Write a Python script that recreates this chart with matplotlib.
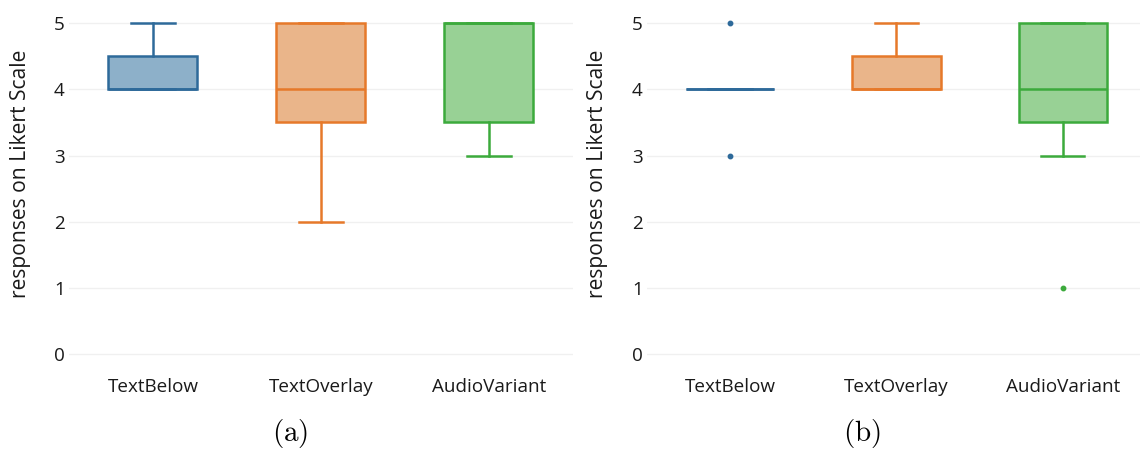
import matplotlib
matplotlib.use("Agg")
import matplotlib.pyplot as plt

# Likert responses summarised per variant (five-number summary + outliers)
variants = ["TextBelow", "TextOverlay", "AudioVariant"]

# panel (a)
a_whislo = [4, 2, 3]
a_q1 = [4, 3.5, 3.5]
a_med = [4, 4, 5]
a_q3 = [4.5, 5, 5]
a_whishi = [5, 5, 5]
a_fliers = [[], [], []]

# panel (b)
b_whislo = [4, 4, 3]
b_q1 = [4, 4, 3.5]
b_med = [4, 4, 4]
b_q3 = [4, 4.5, 5]
b_whishi = [4, 5, 5]
b_fliers = [[3, 5], [], [1]]

yticks = [0, 1, 2, 3, 4, 5]
captions = ["(a)", "(b)"]

line_colors = ["#2e6a9a", "#e6792a", "#3caa3c"]
fill_colors = ["#8db0c9", "#eab58a", "#98d195"]

plt.rcParams["font.family"] = ["Open Sans", "DejaVu Sans"]
plt.rcParams["mathtext.fontset"] = "cm"


def make_stats(whislo, q1, med, q3, whishi, fliers):
    stats = []
    for i in range(len(variants)):
        stats.append({"label": variants[i], "whislo": whislo[i], "q1": q1[i],
                      "med": med[i], "q3": q3[i], "whishi": whishi[i],
                      "fliers": fliers[i]})
    return stats


def draw_panel(ax, stats, label_x):
    for i, s in enumerate(stats):
        ax.bxp([s], positions=[i], widths=0.53, patch_artist=True,
               showfliers=True, showcaps=True,
               boxprops=dict(facecolor=fill_colors[i], edgecolor=line_colors[i], linewidth=1.8),
               medianprops=dict(color=line_colors[i], linewidth=1.8),
               whiskerprops=dict(color=line_colors[i], linewidth=1.8),
               capprops=dict(color=line_colors[i], linewidth=1.8),
               capwidths=0.26,
               flierprops=dict(marker="o", markersize=3.2, markerfacecolor=line_colors[i],
                               markeredgecolor=line_colors[i], linestyle="none"))
    ax.set_xlim(-0.5, 2.5)
    ax.set_ylim(-0.3, 5.3)
    ax.set_yticks(yticks)
    ax.set_xticks(range(len(variants)))
    ax.set_xticklabels(variants)
    ax.grid(axis="y", color="#f0f0f0", linewidth=1)
    ax.set_axisbelow(True)
    for sp in ax.spines.values():
        sp.set_visible(False)
    ax.tick_params(length=0, labelsize=13.6, colors="#1a1a1a")
    ax.tick_params(axis="y", pad=3)
    ax.tick_params(axis="x", pad=3)
    ax.set_ylabel("responses on Likert Scale", fontsize=15.2, color="#1a1a1a", va="center")
    ax.yaxis.set_label_coords(label_x, 0.54)


fig = plt.figure(figsize=(11.4, 4.51), dpi=100)
ax1 = fig.add_axes([0.0605, 0.170, 0.442, 0.823])
ax2 = fig.add_axes([0.5675, 0.170, 0.4377, 0.823])

draw_panel(ax1, make_stats(a_whislo, a_q1, a_med, a_q3, a_whishi, a_fliers), -0.097)
draw_panel(ax2, make_stats(b_whislo, b_q1, b_med, b_q3, b_whishi, b_fliers), -0.100)

fig.text(290 / 1140, 1 - 434 / 451, r"$\mathrm{" + captions[0] + "}$", fontsize=21,
         ha="center", va="center")
fig.text(862 / 1140, 1 - 434 / 451, r"$\mathrm{" + captions[1] + "}$", fontsize=21,
         ha="center", va="center")

fig.savefig("out.png", dpi=100)
